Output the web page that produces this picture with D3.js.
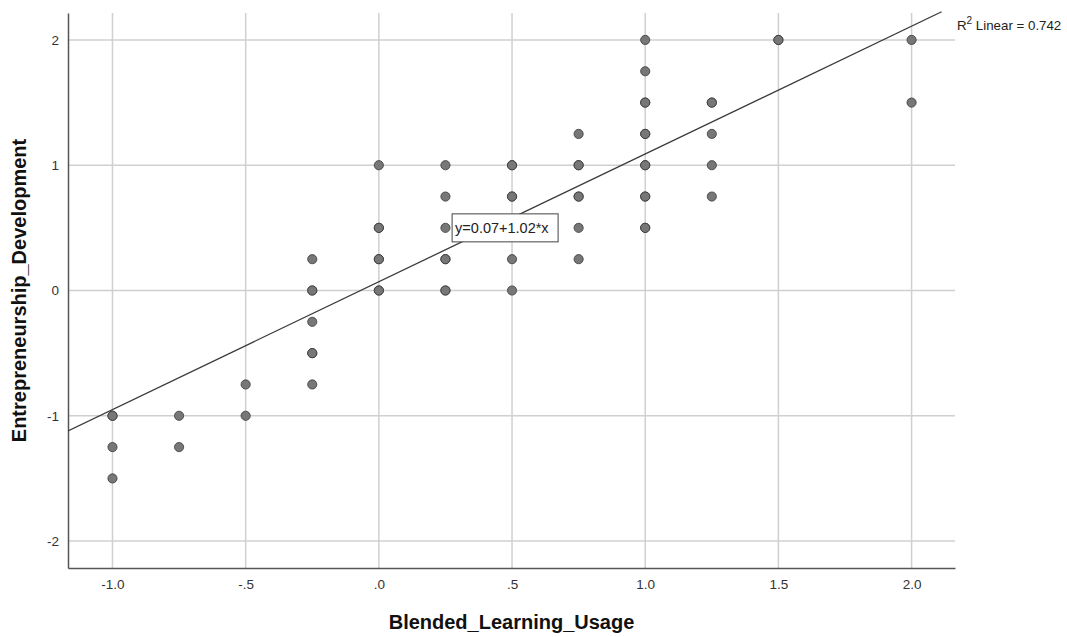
<!DOCTYPE html>
<meta charset="utf-8">
<style>
body { margin: 0; background: #fff; }
text { font-family: "Liberation Sans", Arial, sans-serif; }
.grid line { stroke: #d0d0d0; stroke-width: 1.5px; }
.tick text { font-size: 13.5px; fill: #333; }
.axis-title { font-size: 20px; font-weight: bold; fill: #111; }
.dots circle { fill: #777; stroke: #333; stroke-width: 1px; }
</style>
<svg width="1067" height="637"></svg>
<script src="https://d3js.org/d3.v7.min.js"></script>
<script>

// data (x = Blended_Learning_Usage, y = Entrepreneurship_Development)
var xs = [-1, -1, -1, -0.75, -0.75, -0.5, -0.5,
  -0.25, -0.25, -0.25, -0.25, -0.25,
  0, 0, 0, 0,
  0.25, 0.25, 0.25, 0.25, 0.25,
  0.5, 0.5, 0.5, 0.5, 0.5,
  0.75, 0.75, 0.75, 0.75, 0.75,
  1, 1, 1, 1, 1, 1, 1,
  1.25, 1.25, 1.25, 1.25,
  1.5, 2, 2];
var ys = [-1, -1.25, -1.5, -1, -1.25, -0.75, -1,
  0.25, 0, -0.25, -0.5, -0.75,
  1, 0.5, 0.25, 0,
  1, 0.75, 0.5, 0.25, 0,
  1, 0.75, 0.5, 0.25, 0,
  1.25, 1, 0.75, 0.5, 0.25,
  2, 1.75, 1.5, 1.25, 1, 0.75, 0.5,
  1.5, 1.25, 1, 0.75,
  2, 2, 1.5];
// how many cases sit on the same spot (overplotted markers look darker)
var counts = [2, 1, 1, 1, 1, 1, 1,
  1, 2, 1, 2, 1,
  1, 2, 2, 2,
  1, 1, 1, 2, 2,
  2, 2, 1, 1, 1,
  1, 2, 2, 1, 1,
  1, 1, 2, 2, 2, 2, 2,
  2, 1, 1, 1,
  2, 1, 1];

var xTicks = [-1, -0.5, 0, 0.5, 1, 1.5, 2];
var xTickLabels = ["-1.0", "-.5", ".0", ".5", "1.0", "1.5", "2.0"];
var yTicks = [-2, -1, 0, 1, 2];
var yTickLabels = ["-2", "-1", "0", "1", "2"];

var intercept = 0.07, slope = 1.02, r2 = 0.742;

var svg = d3.select("svg");
var pLeft = 68, pRight = 955, pTop = 13, pBottom = 568;

var x = d3.scaleLinear().domain([-1.167, 2.163]).range([pLeft, pRight]);
var y = d3.scaleLinear().domain([-2.215, 2.215]).range([pBottom, pTop]);

// grid
var grid = svg.append("g").attr("class", "grid");
grid.selectAll("line.v").data(xTicks).enter().append("line")
    .attr("x1", function(d) { return x(d); })
    .attr("x2", function(d) { return x(d); })
    .attr("y1", pTop).attr("y2", pBottom);
grid.selectAll("line.h").data(yTicks).enter().append("line")
    .attr("x1", pLeft).attr("x2", pRight)
    .attr("y1", function(d) { return y(d); })
    .attr("y2", function(d) { return y(d); });

// axes
var xAxis = svg.append("g")
    .attr("transform", "translate(0," + pBottom + ")")
    .call(d3.axisBottom(x).tickValues(xTicks).tickSize(0).tickPadding(11)
      .tickFormat(function(d, i) { return xTickLabels[i]; }));
var yAxis = svg.append("g")
    .attr("transform", "translate(" + pLeft + ",0)")
    .call(d3.axisLeft(y).tickValues(yTicks).tickSize(0).tickPadding(9)
      .tickFormat(function(d, i) { return yTickLabels[i]; }));
[xAxis, yAxis].forEach(function(a) {
  a.select(".domain").attr("stroke", "#555").attr("stroke-width", 1.5);
  a.selectAll(".tick text").attr("font-family", null).attr("font-size", null);
});

// regression line, clipped to the plot box
svg.append("clipPath").attr("id", "plotclip")
  .append("rect").attr("x", pLeft).attr("y", pTop - 2)
  .attr("width", pRight - pLeft).attr("height", pBottom - pTop + 2);

var x0 = x.domain()[0], x1 = (y.domain()[1] + 0.01 - intercept) / slope;
svg.append("line")
    .attr("clip-path", "url(#plotclip)")
    .attr("x1", x(x0)).attr("y1", y(intercept + slope * x0))
    .attr("x2", x(x1)).attr("y2", y(intercept + slope * x1))
    .attr("stroke", "#3a3a3a").attr("stroke-width", 1.3);

// points
var pts = [];
xs.forEach(function(v, i) {
  for (var k = 0; k < counts[i]; k++) pts.push({x: v, y: ys[i]});
});
svg.append("g").attr("class", "dots")
  .selectAll("circle").data(pts).enter().append("circle")
    .attr("cx", function(d) { return x(d.x); })
    .attr("cy", function(d) { return y(d.y); })
    .attr("r", 4.6)
    .attr("stroke-opacity", 0.75);

// equation label
var eq = svg.append("g").attr("transform", "translate(" + x(0.275) + "," + y(0.5) + ")");
eq.append("rect").attr("x", 0).attr("y", -14).attr("width", 106).attr("height", 28)
    .attr("fill", "#fff").attr("stroke", "#444").attr("stroke-width", 1);
eq.append("text").attr("x", 3).attr("y", 5.5)
    .attr("font-size", 14.5).attr("fill", "#222")
    .text("y=" + intercept.toFixed(2) + "+" + slope.toFixed(2) + "*x");

// R squared note
var rt = svg.append("text").attr("x", 957).attr("y", 30)
    .attr("font-size", 13.3).attr("fill", "#222");
rt.append("tspan").text("R");
rt.append("tspan").attr("dy", -6).attr("font-size", 10).text("2");
rt.append("tspan").attr("dy", 6).text(" Linear = " + r2.toFixed(3));

// axis titles
svg.append("text").attr("class", "axis-title")
    .attr("x", (pLeft + pRight) / 2).attr("y", 629)
    .attr("text-anchor", "middle")
    .text("Blended_Learning_Usage");
svg.append("text").attr("class", "axis-title")
    .attr("transform", "translate(26," + y(0) + ") rotate(-90)")
    .attr("text-anchor", "middle")
    .text("Entrepreneurship_Development");

</script>
